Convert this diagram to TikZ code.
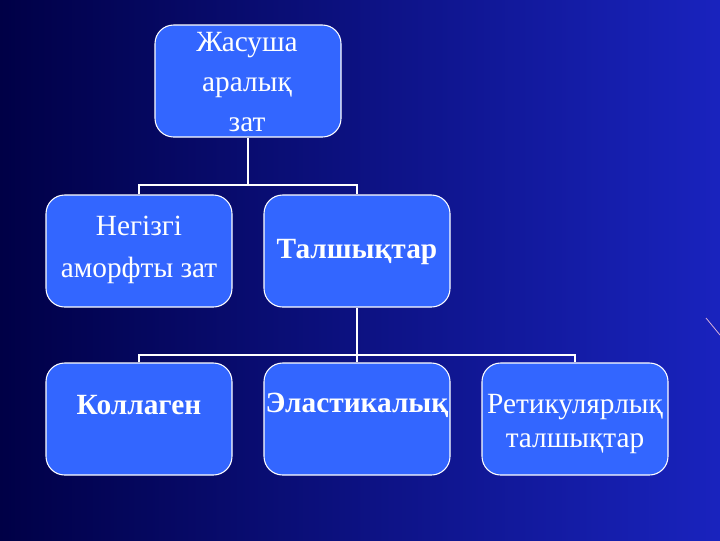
\documentclass[tikz,border=0pt]{standalone}
\usepackage{fontspec}
\setmainfont{Liberation Serif}
\definecolor{boxblue}{RGB}{51,102,255}
\definecolor{bgl}{RGB}{0,0,70}
\definecolor{bgr}{RGB}{25,35,190}
\begin{document}
\begin{tikzpicture}[x=0.75pt,y=-0.75pt,
  bx/.style={draw=white,line width=0.8pt,fill=boxblue,rounded corners=14pt,
    minimum width=139.5pt,minimum height=84pt,inner sep=0pt},
  tx/.style={text=white,align=center,font=\fontsize{22}{25}\selectfont,inner sep=0pt},
  tb/.style={tx,font=\fontsize{22}{25}\selectfont\bfseries},
  cn/.style={draw=white,line width=1.8pt}]
\shade[left color=bgl,right color=bgr] (0,0) rectangle (720,540);
\useasboundingbox (0,0) rectangle (720,540);
\draw[white!70!violet,line width=0.6pt] (706,318) -- (720,335);
\node[bx] (top) at (248,81) {};
\node[bx] (neg) at (139,251) {};
\node[bx] (tal) at (357,251) {};
\node[bx] (kol) at (139,419) {};
\node[bx] (ela) at (357,419) {};
\node[bx] (ret) at (575,419) {};
\node[tx,font=\fontsize{22}{30}\selectfont] (ttop) at (247,82) {Жасуша\\аралық\\зат};
\node[tx,font=\fontsize{22}{31}\selectfont] (tneg) at (139,250) {Негізгі\\аморфты зат};
\node[tb] (ttal) at (357,252) {Талшықтар};
\node[tb] (tkol) at (139,405) {Коллаген};
\node[tb] (tela) at (357,405) {Эластикалық};
\node[tx] (tret) at (575,424) {Ретикулярлық\\талшықтар};
\draw[cn] (top.south) -- (248,185) coordinate (j1);
\draw[cn] (neg.north) |- (j1) -| (tal.north);
\draw[cn] (tal.south) -- (357,355) coordinate (j2);
\draw[cn] (kol.north) |- (j2) -| (ret.north);
\draw[cn] (j2) -- (ela.north);
\end{tikzpicture}
\end{document}
